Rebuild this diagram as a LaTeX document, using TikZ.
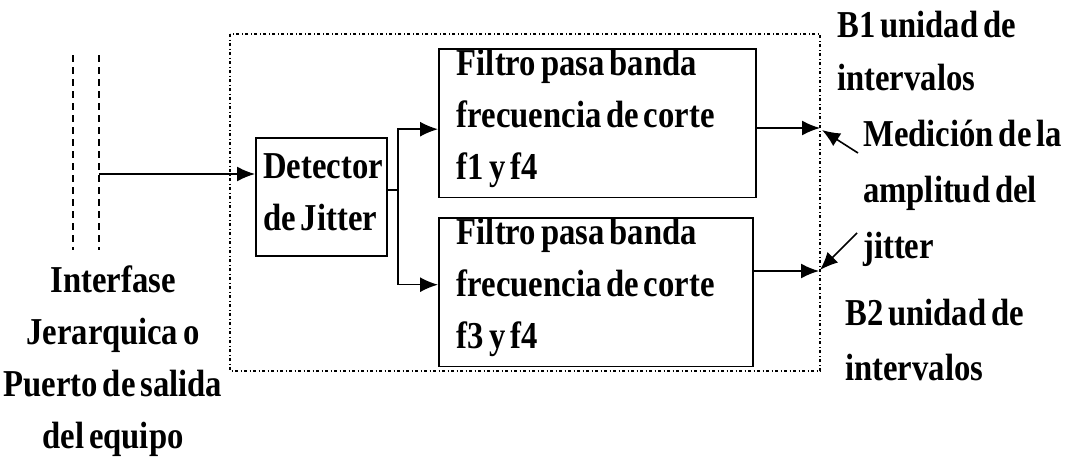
\documentclass[tikz,border=0pt]{standalone}
\usepackage{fontspec}
\newfontfamily\scanfont{Liberation Serif}[FakeStretch=0.86,WordSpace=0.6]
\usetikzlibrary{arrows.meta}
\tikzset{
    block/.style={draw,line width=1.8pt,inner sep=0pt,anchor=north west,align=flush left,
        execute at end node={\par\vspace{10pt}}},
    sig/.style={line width=1.6pt,-{Latex[length=18pt,width=15pt]}},
    txt/.style={inner sep=0pt,align=flush left,anchor=base west},
}
\begin{document}
\begin{tikzpicture}[x=1pt,y=-1pt,font=\scanfont\bfseries\fontsize{38}{52}\selectfont]
    \useasboundingbox (0,0) rectangle (1082,458);
    % port of the equipment
    \draw[line width=1.5pt,dash pattern=on 7pt off 5pt] (73,55) -- (73,250);
    \draw[line width=1.5pt,dash pattern=on 7pt off 5pt] (99,55) -- (99,250);
    % (base of a multi-line node = its last line)
    \node[txt,anchor=base,align=center] (iface) at (113,448)
        {Interfase\\Jerarquica o\\Puerto de salida\\del equipo};
    % measuring unit
    \draw[line width=1.3pt,dash pattern=on 3pt off 2.5pt on 1pt off 2.5pt]
        (230,34) rectangle (820,371);
    \node[block,minimum width=131pt,minimum height=118pt,text width=116pt]
        (det) at (255,137) {Detector\\de Jitter};
    \node[block,minimum width=317pt,minimum height=142pt,text width=281pt]
        (f1) at (438,48) {Filtro pasa banda\\frecuencia de corte\\f1 y f4};
    \node[block,minimum width=314pt,minimum height=145pt,text width=278pt]
        (f2) at (438,217) {Filtro pasa banda\\frecuencia de corte\\f3 y f4};
    % signal path
    \coordinate (port) at (99,174);
    \draw[sig] (port) -- (port -| det.west);
    \coordinate (split) at (398,190);
    \draw[line width=1.6pt] (split -| det.east) -- (split);
    \draw[sig] (split) |- ([yshift=-6pt]f1.west);
    \draw[sig] (split) |- ([yshift=7.5pt]f2.west);
    \coordinate (b1) at (820,128);
    \coordinate (b2) at (819,271);
    \draw[sig] (b1 -| f1.east) -- (b1);
    \draw[sig] (b2 -| f2.east) -- (b2);
    % labels on the right
    \node[txt,font=\scanfont\bfseries\fontsize{38}{53}\selectfont] (u1) at (837,90) {B1 unidad de\\intervalos};
    \node[txt,font=\scanfont\bfseries\fontsize{38}{56}\selectfont] (med) at (863,258) {Medición de la\\amplitud del\\jitter};
    \node[txt,font=\scanfont\bfseries\fontsize{38}{55}\selectfont] (u2) at (845,380) {B2 unidad de\\intervalos};
    \coordinate (m1) at (858,153);
    \coordinate (m2) at (857,233);
    \draw[sig] (m1) -- ([shift={(2,2)}]b1);
    \draw[sig] (m2) -- ([shift={(1,-1)}]b2);
\end{tikzpicture}
\end{document}
